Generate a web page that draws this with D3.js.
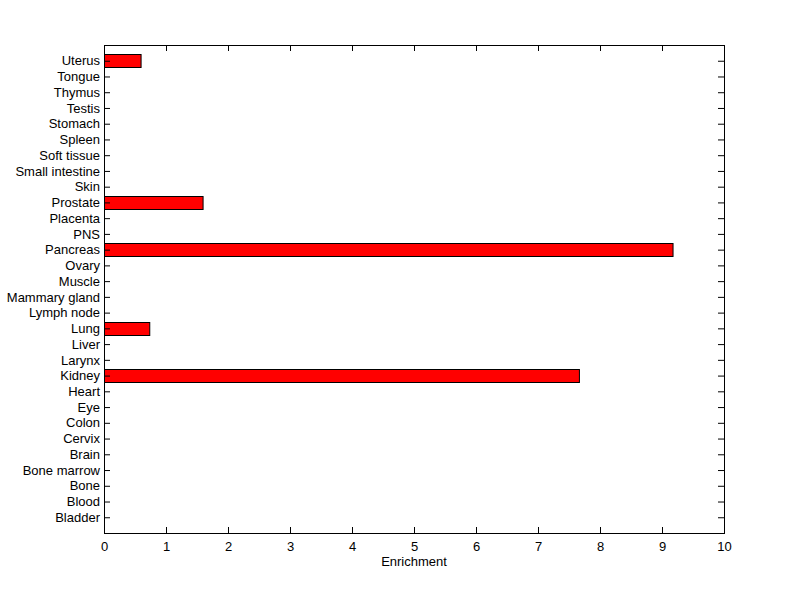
<!DOCTYPE html>
<html>
<head>
<meta charset="utf-8">
<script src="https://cdn.jsdelivr.net/npm/d3@7"></script>
<style>
  body { margin: 0; background: #fff; }
  text { font-family: "Liberation Sans", Arial, sans-serif; font-size: 13px; fill: #000; }
</style>
</head>
<body>
<div id="chart"></div>
<script>
// tissues, bottom to top
const tissues = ["Bladder", "Blood", "Bone", "Bone marrow", "Brain", "Cervix", "Colon", "Eye",
  "Heart", "Kidney", "Larynx", "Liver", "Lung", "Lymph node", "Mammary gland", "Muscle", "Ovary",
  "Pancreas", "PNS", "Placenta", "Prostate", "Skin", "Small intestine", "Soft tissue", "Spleen",
  "Stomach", "Testis", "Thymus", "Tongue", "Uterus"];
const enrichment = [0, 0, 0, 0, 0, 0, 0, 0,
  0, 7.66, 0, 0, 0.73, 0, 0, 0, 0,
  9.17, 0, 0, 1.59, 0, 0, 0, 0,
  0, 0, 0, 0, 0.59];
const xTicks = [0, 1, 2, 3, 4, 5, 6, 7, 8, 9, 10];

const widthSvg = 800, heightSvg = 599;
const margin = {top: 45, right: 76, bottom: 66, left: 104};
const width = widthSvg - margin.left - margin.right;
const height = heightSvg - margin.top - margin.bottom;

const svg = d3.select("#chart").append("svg")
  .attr("width", widthSvg).attr("height", heightSvg);

const g = svg.append("g")
  .attr("transform", "translate(" + margin.left + "," + margin.top + ")");

const x = d3.scaleLinear().domain([0, 10]).range([0, width]);
const y = d3.scaleLinear().domain([0, tissues.length + 1]).range([height, 0]);
const barH = (y(0) - y(0.8));

const data = tissues.map((t, i) => ({name: t, value: enrichment[i], pos: i + 1}));

g.selectAll(".bar")
  .data(data.filter(d => d.value > 0))
  .enter().append("rect")
  .attr("x", x(0) + 0.5)
  .attr("y", d => Math.round(y(d.pos) - barH / 2) + 0.5)
  .attr("width", d => x(d.value) - x(0))
  .attr("height", Math.round(barH))
  .attr("fill", "#ff0000")
  .attr("stroke", "#000")
  .attr("stroke-width", 1);

const tickLen = 6;

// bottom axis
const xb = g.append("g").attr("transform", "translate(0," + height + ")")
  .call(d3.axisBottom(x).tickValues(xTicks).tickSize(-tickLen).tickPadding(9).tickFormat(d3.format("d")));
// top axis ticks
const xt = g.append("g")
  .call(d3.axisTop(x).tickValues(xTicks).tickSize(-tickLen).tickFormat(""));
// left axis
const ticksY = d3.range(1, tissues.length + 1);
const yl = g.append("g")
  .call(d3.axisLeft(y).tickValues(ticksY).tickSize(-tickLen).tickPadding(4)
    .tickFormat(d => tissues[d - 1]));
// right axis ticks
const yr = g.append("g").attr("transform", "translate(" + width + ",0)")
  .call(d3.axisRight(y).tickValues(ticksY).tickSize(-tickLen).tickFormat(""));

[xb, xt, yl, yr].forEach(a => {
  a.select(".domain").remove();
  a.selectAll("line").attr("stroke", "#000");
  a.selectAll("text").style("font-family", "Liberation Sans, Arial, sans-serif")
    .style("font-size", "13px").attr("fill", "#000");
});

// frame
g.append("rect")
  .attr("x", 0.5).attr("y", 0.5)
  .attr("width", width).attr("height", height)
  .attr("fill", "none").attr("stroke", "#000");

g.append("text")
  .attr("x", width / 2).attr("y", height + 33)
  .attr("text-anchor", "middle")
  .text("Enrichment");
</script>
</body>
</html>
